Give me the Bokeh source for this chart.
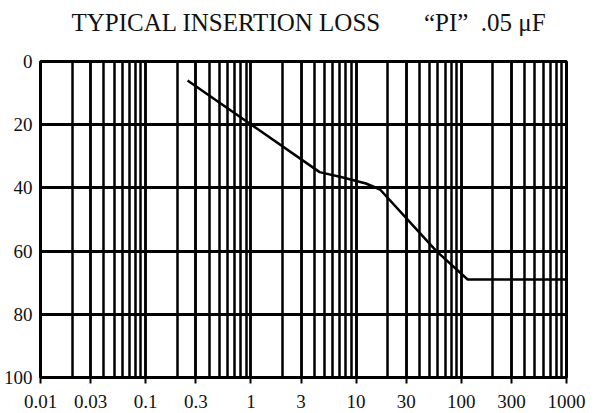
from bokeh.plotting import figure
from bokeh.models import FixedTicker, Title
from bokeh.embed import file_html
from bokeh.resources import INLINE

# Data
freq_mhz = [0.25, 4.5, 7.5, 12.4, 16.9, 35, 58, 115, 1000]
loss_db = [6, 35, 36.7, 38.6, 40.5, 52, 60, 69, 69]

x_tick_values = [0.01, 0.03, 0.1, 0.3, 1, 3, 10, 30, 100, 300, 1000]
x_tick_labels = ["0.01", "0.03", "0.1", "0.3", "1", "3", "10", "30", "100", "300", "1000"]
y_tick_values = [0, 20, 40, 60, 80, 100]
decades = [0.01, 0.1, 1, 10, 100]
minor_grid = [d * m for d in decades for m in range(1, 10)] + [1000]

SERIF = "Liberation Serif"
NB = "\u00a0"
TITLE = "TYPICAL INSERTION LOSS" + NB * 7 + "\u201cPI\u201d" + NB * 2 + ".05" + NB + "\u03bcF"

p = figure(width=597, height=413, x_axis_type="log",
           x_range=(0.01, 1000), y_range=(100, 0),
           output_backend="svg", toolbar_location=None,
           min_border_left=39, min_border_right=31,
           min_border_top=61, min_border_bottom=36)

# a blank second line keeps the title in the upper half of the top border
p.title = Title(text=TITLE + "\n" + NB, align="left", offset=31, text_font=SERIF,
                text_font_size="25px", text_font_style="normal",
                text_line_height=0.8, text_color="#111111", standoff=8)

p.outline_line_color = "black"
p.outline_line_width = 3
p.outline_line_alpha = 1

p.xaxis.ticker = FixedTicker(ticks=x_tick_values, minor_ticks=minor_grid)
p.xaxis.major_label_overrides = {v: s for v, s in zip(x_tick_values, x_tick_labels)}
p.yaxis.ticker = FixedTicker(ticks=y_tick_values)

for ax in (p.xaxis, p.yaxis):
    ax.axis_line_color = "black"
    ax.axis_line_width = 2
    ax.major_label_text_font = SERIF
    ax.major_label_text_font_size = "19px"
    ax.major_label_text_color = "#111111"
    ax.major_tick_in = 0
    ax.minor_tick_in = 0
    ax.minor_tick_out = 0
    ax.major_tick_line_color = "black"
    ax.major_tick_line_width = 2

p.xaxis.major_tick_out = 6
p.xaxis.major_label_standoff = 11
p.yaxis.major_tick_out = 0
p.yaxis.major_label_standoff = 8

p.xgrid.grid_line_color = "black"
p.xgrid.grid_line_width = 2.5
p.xgrid.grid_line_alpha = 1
p.xgrid.minor_grid_line_color = "black"
p.xgrid.minor_grid_line_width = 2.5
p.xgrid.minor_grid_line_alpha = 1

p.ygrid.grid_line_color = "black"
p.ygrid.grid_line_width = 3
p.ygrid.grid_line_alpha = 1

p.line(freq_mhz, loss_db, line_color="black", line_width=2.5)

p.background_fill_color = "white"
p.border_fill_color = "white"

open("out.html", "w").write(file_html(p, INLINE))
